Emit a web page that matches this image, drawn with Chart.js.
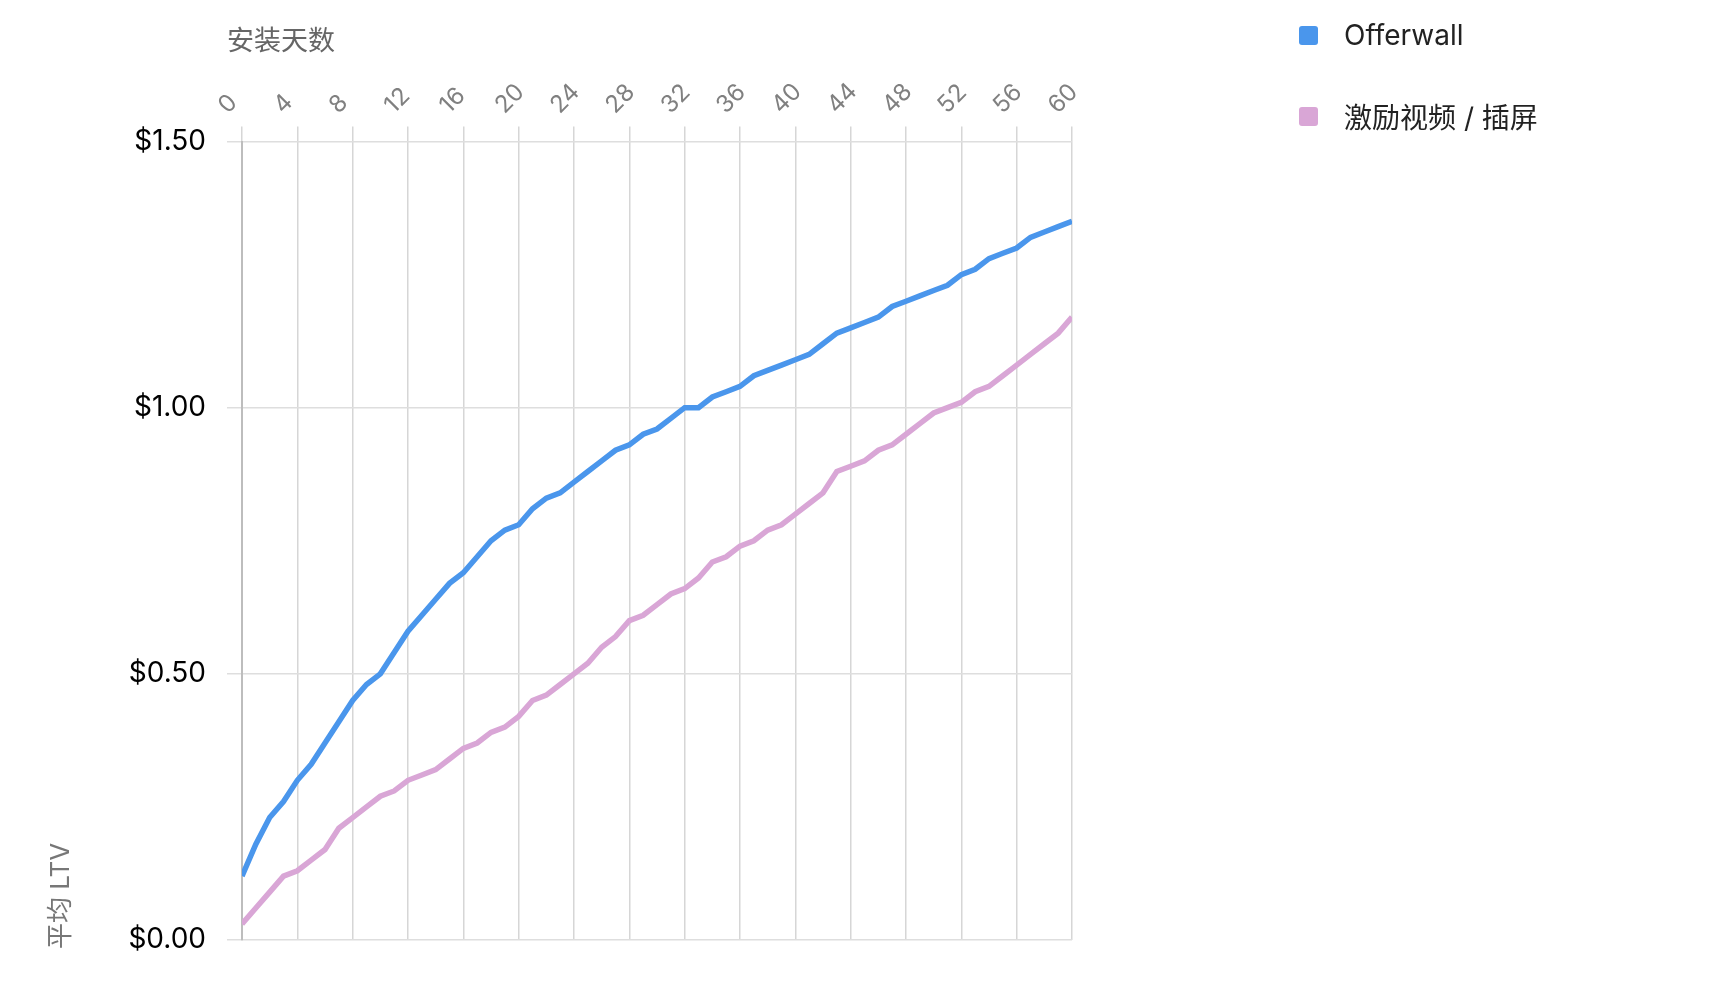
<!DOCTYPE html>
<html>
<head>
    <meta charset="utf-8">
    <script src="https://cdn.jsdelivr.net/npm/chart.js@4.4.0/dist/chart.umd.min.js"></script>
    <style>
        body { margin: 0; background: #fff; }
        #wrap { position: relative; width: 1726px; height: 982px; }
        #legend {
            position: absolute; left: 1299px; top: 14px;
            font-family: Inter, 'Noto Sans CJK SC', sans-serif;
            font-size: 28px; color: #222;
        }
        .item { display: flex; align-items: center; height: 42px; margin-bottom: 39px; }
        .box { width: 19px; height: 19px; border-radius: 3px; margin-right: 26px; }
    </style>
</head>
<body>
    <div id="wrap">
        <canvas id="ltvChart"></canvas>
        <div id="legend"></div>
    </div>
    <script>
        const days = [0, 1, 2, 3, 4, 5, 6, 7, 8, 9, 10, 11, 12, 13, 14, 15, 16, 17, 18, 19, 20,
            21, 22, 23, 24, 25, 26, 27, 28, 29, 30, 31, 32, 33, 34, 35, 36, 37, 38, 39, 40,
            41, 42, 43, 44, 45, 46, 47, 48, 49, 50, 51, 52, 53, 54, 55, 56, 57, 58, 59, 60];

        const offerwall = [0.12, 0.18, 0.23, 0.26, 0.30, 0.33, 0.37, 0.41, 0.45, 0.48, 0.50, 0.54, 0.58, 0.61, 0.64, 0.67,
            0.69, 0.72, 0.75, 0.77, 0.78, 0.81, 0.83, 0.84, 0.86, 0.88, 0.90, 0.92, 0.93, 0.95, 0.96, 0.98,
            1.00, 1.00, 1.02, 1.03, 1.04, 1.06, 1.07, 1.08, 1.09, 1.10, 1.12, 1.14, 1.15, 1.16, 1.17,
            1.19, 1.20, 1.21, 1.22, 1.23, 1.25, 1.26, 1.28, 1.29, 1.30, 1.32, 1.33, 1.34, 1.35];

        const rewarded = [0.03, 0.06, 0.09, 0.12, 0.13, 0.15, 0.17, 0.21, 0.23, 0.25, 0.27, 0.28, 0.30, 0.31, 0.32, 0.34,
            0.36, 0.37, 0.39, 0.40, 0.42, 0.45, 0.46, 0.48, 0.50, 0.52, 0.55, 0.57, 0.60, 0.61, 0.63, 0.65,
            0.66, 0.68, 0.71, 0.72, 0.74, 0.75, 0.77, 0.78, 0.80, 0.82, 0.84, 0.88, 0.89, 0.90, 0.92,
            0.93, 0.95, 0.97, 0.99, 1.00, 1.01, 1.03, 1.04, 1.06, 1.08, 1.10, 1.12, 1.14, 1.17];

        const seriesNames = ['Offerwall', '激励视频 / 插屏'];
        const seriesColors = ['#4a96ec', '#d9a6d6'];
        const yTicks = [0, 0.5, 1.0, 1.5];
        const xTitle = '安装天数';
        const yTitle = '平均 LTV';

        const fontStack = "Inter, 'Noto Sans CJK SC', sans-serif";
        Chart.defaults.font.family = fontStack;

        // both axis titles sit a bit outside where chart.js would put them
        const axisTitles = {
            id: 'axisTitles',
            afterDraw(chart) {
                const c = chart.ctx;
                const area = chart.chartArea;
                c.save();
                c.textBaseline = 'middle';
                c.textAlign = 'left';

                c.font = '27px ' + fontStack;
                c.fillStyle = '#666';
                c.fillText(xTitle, area.left - 15, 42);

                c.font = '26px ' + fontStack;
                c.fillStyle = '#777';
                c.translate(61, area.bottom + 9);
                c.rotate(-Math.PI / 2);
                c.fillText(yTitle, 0, 0);
                c.restore();
            }
        };

        const ctx = document.getElementById('ltvChart').getContext('2d');

        const ltvChart = new Chart(ctx, {
            type: 'line',
            data: {
                labels: days,
                datasets: [offerwall, rewarded].map((vals, i) => ({
                    label: seriesNames[i],
                    data: vals,
                    borderColor: seriesColors[i],
                    backgroundColor: seriesColors[i],
                    borderWidth: 5.5,
                    pointRadius: 0,
                    tension: 0,
                    fill: false
                }))
            },
            options: {
                responsive: true,
                maintainAspectRatio: false,
                animation: false,
                layout: {
                    padding: { left: 0, right: 654, top: 0, bottom: 42 }
                },
                plugins: {
                    legend: { display: false },
                    tooltip: { enabled: false }
                },
                scales: {
                    x: {
                        type: 'linear',
                        position: 'top',
                        min: 0,
                        max: 60,
                        afterFit: (axis) => { axis.height = 141.5; },
                        grid: { color: '#d6d6d6', lineWidth: 1.5, tickLength: 15 },
                        border: { display: false },
                        ticks: {
                            stepSize: 4,
                            minRotation: 45,
                            maxRotation: 45,
                            labelOffset: 1,
                            padding: 7,
                            color: '#808080',
                            font: { size: 24 }
                        }
                    },
                    y: {
                        min: 0,
                        max: 1.5,
                        afterBuildTicks: (axis) => { axis.ticks = yTicks.map(v => ({ value: v })); },
                        afterFit: (axis) => { axis.width = 242; },
                        grid: { color: '#dedede', lineWidth: 1.5, tickLength: 15 },
                        border: { display: true, color: '#bdbdbd', width: 2 },
                        ticks: {
                            color: '#000',
                            padding: 21,
                            font: { size: 28 },
                            callback: (v) => '$' + Number(v).toFixed(2)
                        }
                    }
                }
            },
            plugins: [axisTitles]
        });

        // legend as plain html next to the plot
        const legendEl = document.getElementById('legend');
        seriesNames.forEach((name, i) => {
            const item = document.createElement('div');
            item.className = 'item';
            const box = document.createElement('span');
            box.className = 'box';
            box.style.background = seriesColors[i];
            const txt = document.createElement('span');
            txt.textContent = name;
            item.appendChild(box);
            item.appendChild(txt);
            legendEl.appendChild(item);
        });
    </script>
</body>
</html>
